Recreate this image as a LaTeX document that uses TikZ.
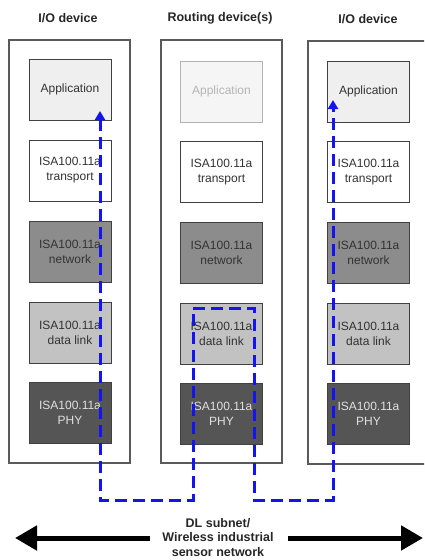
\documentclass[tikz,border=0pt]{standalone}
\usepackage{fontspec}
\setmainfont{Liberation Sans}
\usetikzlibrary{arrows.meta}
\definecolor{appfill}{HTML}{EFEFEF}
\definecolor{netfill}{HTML}{8C8C8C}
\definecolor{dlfill}{HTML}{C2C2C2}
\definecolor{phyfill}{HTML}{555555}
\definecolor{pathblue}{HTML}{1414F0}
\definecolor{ghost}{HTML}{B4B4B4}
\definecolor{frame}{HTML}{5A5A5A}
\tikzset{
  outerbox/.style={draw=frame, line width=1.3pt},
  layer/.style={draw=black!75, line width=0.9pt, minimum width=82pt, minimum height=61pt,
    inner sep=0pt, align=center, font=\fontsize{12}{15}\selectfont, text=black!80},
  applayer/.style={layer, fill=appfill},
  ghostlayer/.style={layer, fill=appfill!60, draw=ghost, text=ghost},
  trlayer/.style={layer, fill=white},
  netlayer/.style={layer, fill=netfill},
  dllayer/.style={layer, fill=dlfill},
  phylayer/.style={layer, fill=phyfill, text=black!12},
  title/.style={font=\fontsize{12.5}{15}\selectfont\bfseries, text=black!85},
  route/.style={draw=pathblue, line width=3pt, dash pattern=on 12pt off 6pt,
    {Triangle[length=9pt,width=10pt]}-{Triangle[length=9pt,width=10pt]}},
  bigarrow/.style={line width=5pt, -{Triangle[length=22pt,width=24pt]}}
}
\begin{document}
\begin{tikzpicture}[x=1pt,y=-1pt]
\useasboundingbox (0,0) rectangle (424,560);
\begin{scope}
\clip (0,0) rectangle (424,560);
% titles
\node[title] (t1) at (68,18) {I/O device};
\node[title] (t2) at (220,18) {Routing device(s)};
\node[title] (t3) at (368,19) {I/O device};
% outer boxes
\draw[outerbox] (9,40) rectangle (130,463);
\draw[outerbox] (161,40) rectangle (282,463);
\draw[outerbox] (308,41) rectangle (440,464);
% left column
\node[applayer] (a1) at (70,89.5) {Application};
\node[trlayer]  (b1) at (70,170.5) {ISA100.11a\\transport};
\node[netlayer] (c1) at (70,251.5) {ISA100.11a\\network};
\node[dllayer]  (d1) at (70,332.5) {ISA100.11a\\data link};
\node[phylayer] (e1) at (70,413) {ISA100.11a\\PHY};
% middle column
\node[ghostlayer] (a2) at (221.5,91.5) {Application};
\node[trlayer]  (b2) at (221.5,172) {ISA100.11a\\transport};
\node[netlayer] (c2) at (221.5,252.5) {ISA100.11a\\network};
\node[dllayer]  (d2) at (221.5,333.5) {ISA100.11a\\data link};
\node[phylayer] (e2) at (221.5,414) {ISA100.11a\\PHY};
% right column
\node[applayer] (a3) at (368.5,91.5) {Application};
\node[trlayer]  (b3) at (368.5,172) {ISA100.11a\\transport};
\node[netlayer] (c3) at (368.5,253) {ISA100.11a\\network};
\node[dllayer]  (d3) at (368.5,333.5) {ISA100.11a\\data link};
\node[phylayer] (e3) at (368.5,414) {ISA100.11a\\PHY};
% route
\coordinate (r0) at (100,111);
\coordinate (r1) at (100,500);
\coordinate (r2) at (193,500);
\coordinate (r3) at (193,308);
\coordinate (r4) at (254,308);
\coordinate (r5) at (254,500);
\coordinate (r6) at (333,500);
\coordinate (r7) at (333,100);
\draw[route] (r0) -- (r1) -- (r2) -- (r3) -- (r4) -- (r5) -- (r6) -- (r7);
% bottom
\node[font=\fontsize{12.5}{14.5}\selectfont\bfseries, align=center, text=black!85, inner sep=0pt] (net) at (218,537.5)
  {DL subnet/\\Wireless industrial\\sensor network};
\coordinate (lt) at (15,538);
\coordinate (rt) at (423,538);
\draw[bigarrow] (150,538) -- (lt);
\draw[bigarrow] (288,538) -- (rt);
\end{scope}
\end{tikzpicture}
\end{document}
